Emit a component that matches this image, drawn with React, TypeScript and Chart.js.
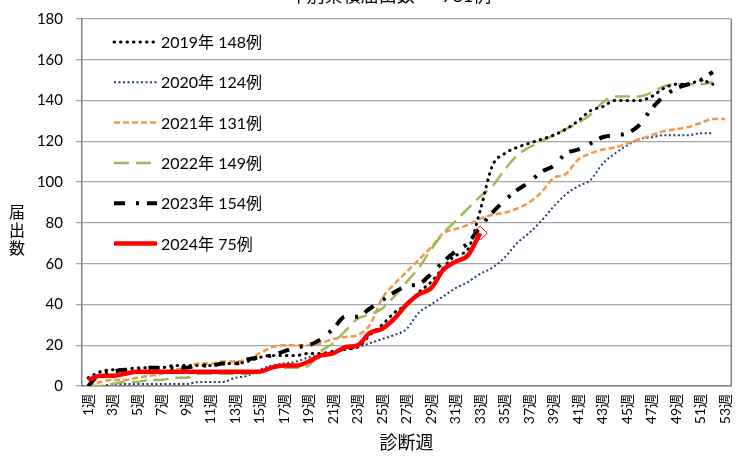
import React, { useEffect, useRef } from 'react';
import { Chart, registerables } from 'chart.js';

Chart.register(...registerables);

const TITLE = '年別累積届出数 － 781例';
const X_TITLE = '診断週';
const Y_TITLE = ['届', '出', '数'];

const weeks = [
  '1週', '2週', '3週', '4週', '5週', '6週', '7週', '8週', '9週', '10週',
  '11週', '12週', '13週', '14週', '15週', '16週', '17週', '18週', '19週', '20週',
  '21週', '22週', '23週', '24週', '25週', '26週', '27週', '28週', '29週', '30週',
  '31週', '32週', '33週', '34週', '35週', '36週', '37週', '38週', '39週', '40週',
  '41週', '42週', '43週', '44週', '45週', '46週', '47週', '48週', '49週', '50週',
  '51週', '52週', '53週',
];

const labels = ['2019年 148例', '2020年 124例', '2021年 131例', '2022年 149例', '2023年 154例', '2024年 75例'];

const y2019 = [4, 7, 8, 8, 9, 9, 9, 10, 10, 10, 10, 11, 11, 12, 14, 15, 15, 15, 16, 16,
  17, 18, 19, 25, 30, 36, 40, 46, 51, 58, 64, 67, 86, 108, 114, 117, 119, 121, 123, 126,
  130, 135, 137, 140, 140, 140, 142, 146, 148, 148, 150, 148];
const y2020 = [0, 0, 1, 1, 1, 1, 1, 1, 1, 2, 2, 2, 4, 5, 8, 10, 11, 12, 14, 15,
  16, 18, 19, 21, 23, 25, 28, 36, 40, 44, 48, 51, 55, 58, 63, 70, 75, 81, 88, 94,
  98, 101, 109, 114, 118, 121, 122, 123, 123, 123, 124, 124];
const y2021 = [0, 2, 3, 3, 4, 5, 6, 8, 9, 11, 11, 12, 12, 13, 16, 19, 20, 20, 20, 21,
  23, 24, 25, 30, 43, 50, 56, 62, 68, 75, 77, 79, 82, 84, 85, 87, 90, 95, 102, 104,
  111, 114, 116, 117, 119, 121, 123, 125, 126, 127, 129, 131, 131];
const y2022 = [0, 0, 1, 2, 2, 3, 3, 4, 4, 6, 6, 6, 6, 6, 7, 9, 9, 9, 10, 17,
  21, 27, 33, 35, 38, 44, 51, 58, 67, 75, 81, 87, 93, 98, 106, 113, 117, 120, 123, 126,
  129, 133, 139, 142, 142, 142, 144, 147, 148, 148, 148, 149];
const y2023 = [0, 6, 7, 8, 8, 9, 9, 9, 9, 10, 10, 11, 11, 13, 14, 15, 17, 19, 20, 23,
  28, 34, 34, 38, 42, 46, 49, 50, 55, 61, 66, 70, 78, 85, 91, 96, 100, 105, 108, 114,
  116, 119, 122, 123, 124, 128, 136, 142, 146, 148, 150, 154];
const y2024 = [3, 5, 5, 6, 7, 7, 7, 7, 7, 7, 7, 7, 7, 7, 7, 9, 10, 10, 12, 15,
  16, 19, 20, 26, 28, 33, 40, 45, 48, 57, 61, 64, 75];

const FONT = 'Lato, "Noto Sans CJK JP", sans-serif';
const SHIFT = 20;
const W = 750;
const H = 457 + SHIFT;

const decorPlugin = {
  id: 'decor',
  beforeDatasetsDraw(chart: any) {
    const { ctx, chartArea: a } = chart;
    ctx.save();
    ctx.strokeStyle = '#808080';
    ctx.lineWidth = 1.5;
    ctx.beginPath();
    ctx.moveTo(a.right, a.top);
    ctx.lineTo(a.right, a.bottom);
    ctx.stroke();
    ctx.restore();
  },
  afterDraw(chart: any) {
    const { ctx } = chart;
    ctx.save();
    // title (cut off at top of page)
    ctx.fillStyle = '#000';
    ctx.font = '18px ' + FONT;
    ctx.textAlign = 'center';
    ctx.textBaseline = 'alphabetic';
    ctx.fillText(TITLE, 390, SHIFT + 2);
    // y axis title, stacked
    ctx.font = '16px ' + FONT;
    ctx.textBaseline = 'middle';
    Y_TITLE.forEach((ch, i) => ctx.fillText(ch, 17, SHIFT + 213 + i * 18));
    // legend
    const dss = chart.data.datasets;
    dss.forEach((ds: any, i: number) => {
      const y = SHIFT + 42 + i * 40.3;
      ctx.save();
      ctx.strokeStyle = ds.borderColor;
      ctx.lineWidth = ds.borderWidth;
      ctx.setLineDash(ds.borderDash || []);
      ctx.lineCap = ds.borderCapStyle || 'butt';
      ctx.beginPath();
      ctx.moveTo(114, y);
      ctx.lineTo(157, y);
      ctx.stroke();
      ctx.restore();
      ctx.fillStyle = '#000';
      ctx.font = '16px ' + FONT;
      ctx.textAlign = 'left';
      ctx.textBaseline = 'middle';
      ctx.fillText(ds.label, 161, y + 1);
    });
    ctx.restore();
  },
};

export default function App() {
  const ref = useRef<HTMLCanvasElement>(null);
  useEffect(() => {
    if (!ref.current) return;
    const last2024 = y2024.length - 1;
    const chart = new Chart(ref.current, {
      type: 'line',
      data: {
        labels: weeks,
        datasets: [
          {
            label: labels[0], data: y2019, borderColor: '#000000', borderWidth: 3,
            borderDash: [0.5, 6], borderCapStyle: 'round', pointRadius: 0,
            cubicInterpolationMode: 'monotone', order: 1,
          },
          {
            label: labels[1], data: y2020, borderColor: '#1F3D7A', borderWidth: 2,
            borderDash: [2, 2.5], borderCapStyle: 'butt', pointRadius: 0,
            cubicInterpolationMode: 'monotone', order: 5,
          },
          {
            label: labels[2], data: y2021, borderColor: '#F79646', borderWidth: 2.5,
            borderDash: [6, 3], borderCapStyle: 'butt', pointRadius: 0,
            cubicInterpolationMode: 'monotone', order: 4,
          },
          {
            label: labels[3], data: y2022, borderColor: '#9BBB59', borderWidth: 2.5,
            borderDash: [15, 7], borderCapStyle: 'butt', pointRadius: 0,
            cubicInterpolationMode: 'monotone', order: 3,
          },
          {
            label: labels[4], data: y2023, borderColor: '#000000', borderWidth: 4,
            borderDash: [11, 11, 3, 8], borderCapStyle: 'butt', pointRadius: 0,
            cubicInterpolationMode: 'monotone', order: 2,
          },
          {
            label: labels[5], data: y2024, borderColor: '#FF0000', borderWidth: 4.5,
            borderDash: [], borderCapStyle: 'butt',
            pointRadius: (c: any) => (c.dataIndex === last2024 ? 7 : 0),
            pointStyle: 'rectRot', pointBorderColor: '#FF0000', pointBorderWidth: 1,
            pointBackgroundColor: 'rgba(255,255,255,0)',
            cubicInterpolationMode: 'monotone', order: 0,
          },
        ] as any,
      },
      options: {
        animation: false,
        responsive: false,
        maintainAspectRatio: false,
        devicePixelRatio: 1,
        layout: { padding: { top: SHIFT + 19, right: 3, left: 0, bottom: 0 } },
        plugins: {
          legend: { display: false },
          title: { display: false },
          tooltip: { enabled: false },
        },
        scales: {
          x: {
            type: 'category',
            offset: true,
            grid: { display: false, drawTicks: false },
            border: { display: true, color: '#808080', width: 1.5 },
            ticks: {
              autoSkip: false,
              maxRotation: 90,
              minRotation: 90,
              padding: 8,
              color: '#000',
              font: { size: 14, family: FONT },
              callback: function (this: any, v: any, i: number) {
                return i % 2 === 0 ? this.getLabelForValue(v) : '';
              },
            },
            title: {
              display: true, text: X_TITLE, color: '#000',
              font: { size: 18, family: FONT }, padding: { top: 0, bottom: 3 },
            },
            afterFit: (s: any) => { s.height = 71; },
          },
          y: {
            min: 0,
            max: 180,
            ticks: { stepSize: 20, padding: 13, color: '#000', font: { size: 15, family: FONT } },
            grid: { color: '#A6A6A6', lineWidth: 1.3, tickLength: 6, drawTicks: true },
            border: { display: true, color: '#808080', width: 1.5 },
            afterFit: (s: any) => { s.width = 82; },
          },
        },
      } as any,
      plugins: [decorPlugin],
    });
    return () => chart.destroy();
  }, []);
  return (
    <div style={{ position: 'absolute', left: 0, top: -SHIFT, width: W, height: H }}>
      <canvas ref={ref} width={W} height={H} style={{ width: W, height: H, display: 'block' }} />
    </div>
  );
}
